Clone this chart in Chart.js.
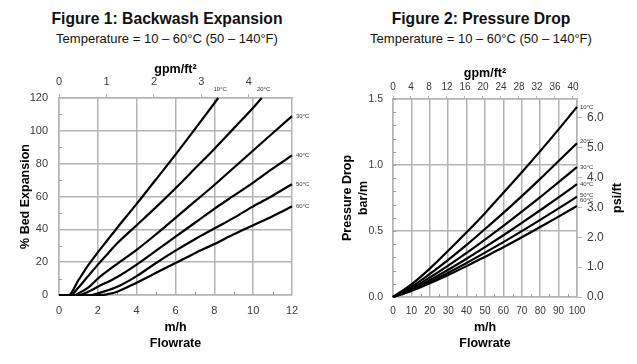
<!DOCTYPE html>
<html><head><meta charset="utf-8">
<script src="https://cdn.jsdelivr.net/npm/chart.js@4.4.0/dist/chart.umd.min.js"></script>
<style>
body{margin:0;background:#fff;width:637px;height:364px;position:relative;overflow:hidden;font-family:'Liberation Sans',Arial,sans-serif}
.h{position:absolute;text-align:center;color:#111;white-space:nowrap}
.t1{font-weight:bold;font-size:15.7px;line-height:15.7px;top:10.7px}
.t2{font-size:13px;line-height:13px;top:31.7px}
canvas{position:absolute;top:0}
</style></head><body>
<div class="h t1" style="left:0;width:334px">Figure 1: Backwash Expansion</div>
<div class="h t2" style="left:0;width:334px">Temperature = 10 – 60°C (50 – 140°F)</div>
<div class="h t1" style="left:318px;width:326px">Figure 2: Pressure Drop</div>
<div class="h t2" style="left:318px;width:326px">Temperature = 10 – 60°C (50 – 140°F)</div>
<canvas id="c1" width="318" height="364" style="left:0"></canvas>
<canvas id="c2" width="319" height="364" style="left:318px"></canvas>
<script>
// ---- unit conversions ----
const GPM = 2.4448;   // m/h per gpm/ft²
const PSI = 4.4207;   // psi/ft per bar/m
const tempLabels = ['10°C','20°C','30°C','40°C','50°C','60°C'];

// ---- Figure 1: Backwash expansion (flowrate m/h -> % bed expansion) ----
const bwFlow10 = [0,0.5,1,1.5,2,2.5,3,4,5,6,7,8,8.2];
const bwExp10  = [0,0,9,18,26,33.5,41,55.5,70.5,85.5,101,116.8,120];
const bwFlow20 = [0,0.6,1,1.5,2,2.5,3,4,5,6,7,8,9,10,10.44];
const bwExp20  = [0,0,4.5,11.5,18.5,25,31.5,42.5,53.5,65,77,89,101.5,114,120];
const bwFlow30 = [0,0.8,1,1.5,2,3,4,5,6,7,8,9,10,11,12];
const bwExp30  = [0,0,1,4.5,10,19,27.5,37,47,57,67,77.5,88,98.5,109];
const bwFlow40 = [0,1,1.5,2,3,4,5,6,7,8,9,10,11,12];
const bwExp40  = [0,0,2,5,11,18.5,27,35.5,44,52.5,60.5,68.5,77,85];
const bwFlow50 = [0,1.6,2,3,4,5,6,7,8,9,10,11,12];
const bwExp50  = [0,0,1,5,11.5,19.5,27,34,40.5,47,54,60.5,67.5];
const bwFlow60 = [0,2.2,2.5,3,4,5,6,7,8,9,10,11,12];
const bwExp60  = [0,0,0.5,2,7.5,13.5,19.5,25.5,31,37,42.5,48,54];

// ---- Figure 2: Pressure drop (flowrate m/h -> bar/m) ----
const pdFlow = [0,10,20,30,40,50,60,70,80,90,100];
const pd10 = [0,0.095,0.215,0.35,0.49,0.635,0.79,0.945,1.105,1.27,1.44];
const pd20 = [0,0.077,0.175,0.282,0.395,0.515,0.637,0.764,0.895,1.03,1.165];
const pd30 = [0,0.065,0.148,0.238,0.334,0.435,0.539,0.646,0.756,0.87,0.985];
const pd40 = [0,0.056,0.128,0.207,0.29,0.378,0.468,0.561,0.657,0.755,0.855];
const pd50 = [0,0.05,0.114,0.184,0.258,0.336,0.416,0.499,0.584,0.671,0.76];
const pd60 = [0,0.046,0.104,0.167,0.234,0.305,0.377,0.453,0.53,0.609,0.69];

const FONT = "'Liberation Sans', Arial, sans-serif";
Chart.defaults.font.family = FONT;
Chart.defaults.animation = false;
const gridC = '#b3b3b3', tickC = '#3a3a3a';

function pts(xs, ys){ return xs.map((x,i)=>({x:x, y:ys[i]})); }
function series(label, xs, ys){
  return {label, data: pts(xs, ys), borderColor:'#000', borderWidth:2.2, pointRadius:0,
          fill:false, cubicInterpolationMode:'monotone', clip:false};
}

const minorTicks = {
  id:'minorTicks',
  beforeDatasetsDraw(chart, args, opts){
    const ctx = chart.ctx, a = chart.chartArea;
    ctx.save(); ctx.strokeStyle = opts.color || '#999'; ctx.lineWidth = 1;
    (opts.items || []).forEach(it => {
      const s = chart.scales[it.scale];
      for (let k = 0; ; k++){
        const v = it.start + k*it.step;
        if (v > s.max + 1e-9) break;
        const p = Math.round(s.getPixelForValue(v)) + 0.5;
        ctx.beginPath();
        if (s.isHorizontal()){ ctx.moveTo(p, a.bottom); ctx.lineTo(p, a.bottom - it.len); }
        else { ctx.moveTo(a.left, p); ctx.lineTo(a.left + it.len, p); }
        ctx.stroke();
      }
    });
    ctx.restore();
  }
};
const endLabels = {
  id:'endLabels',
  afterDatasetsDraw(chart, args, opts){
    const ctx = chart.ctx, a = chart.chartArea;
    ctx.save(); ctx.font = opts.font; ctx.fillStyle = opts.color; ctx.textBaseline = 'middle';
    chart.data.datasets.forEach((ds, i) => {
      const d = chart.getDatasetMeta(i).data; const e = d[d.length-1];
      if (e.y <= a.top + 1){ ctx.textAlign = 'center'; ctx.fillText(ds.label, e.x + opts.topDx, a.top + opts.topDy); }
      else { ctx.textAlign = 'left'; ctx.fillText(ds.label, a.right + opts.sideDx, e.y + (opts.dy ? opts.dy[i] : 0)); }
    });
    ctx.restore();
  }
};
const sideTitle = {
  id:'sideTitle',
  afterDraw(chart, args, opts){
    if (!opts.text) return;
    const ctx = chart.ctx, a = chart.chartArea;
    ctx.save(); ctx.translate(a.right + opts.dx, (a.top + a.bottom)/2); ctx.rotate(-Math.PI/2);
    ctx.font = opts.font; ctx.fillStyle = '#000'; ctx.textAlign = 'center'; ctx.textBaseline = 'middle';
    ctx.fillText(opts.text, 0, 0); ctx.restore();
  }
};

const tickFont = {size:11, family:FONT};
const tickFontS = {size:10, family:FONT};
const titleFont = {size:12.5, weight:'bold', family:FONT, lineHeight:1.28};
const noRot = {maxRotation:0, minRotation:0, autoSkip:false};

// ---------- Chart 1 ----------
new Chart(document.getElementById('c1'), {
  type:'line',
  data:{ datasets:[
    series(tempLabels[0], bwFlow10, bwExp10),
    series(tempLabels[1], bwFlow20, bwExp20),
    series(tempLabels[2], bwFlow30, bwExp30),
    series(tempLabels[3], bwFlow40, bwExp40),
    series(tempLabels[4], bwFlow50, bwExp50),
    series(tempLabels[5], bwFlow60, bwExp60)
  ]},
  plugins:[minorTicks, endLabels],
  options:{
    responsive:false, events:[],
    layout:{padding:{top:55, left:0, right:26, bottom:0}},
    plugins:{ legend:{display:false}, tooltip:{enabled:false},
      minorTicks:{color:'#9a9a9a', items:[{scale:'y', start:10, step:20, len:3},{scale:'x', start:1, step:2, len:3}]},
      endLabels:{font:'6px '+FONT, color:'#333', topDx:2, topDy:-9, sideDx:4}
    },
    scales:{
      x:{type:'linear', position:'bottom', min:0, max:12,
         ticks:Object.assign({stepSize:2, padding:9.5, font:tickFont, color:tickC}, noRot),
         grid:{color:gridC, lineWidth:1.5, drawTicks:false}, border:{color:gridC, width:1.5},
         title:{display:true, text:['m/h','Flowrate'], font:titleFont, color:'#000', padding:{top:0,bottom:12}},
         afterFit(s){ s.height = 69; }},
      x2:{type:'linear', position:'top', min:0, max:12/GPM,
         ticks:Object.assign({stepSize:1, includeBounds:false, padding:5, font:tickFont, color:tickC}, noRot),
         grid:{drawOnChartArea:false, drawTicks:true, tickLength:4, color:gridC}, border:{color:gridC, width:1.5},
         title:{display:true, text:'gpm/ft²', font:titleFont, color:'#000', padding:{top:7,bottom:0}},
         afterFit(s){ s.height = 43; }},
      y:{type:'linear', position:'left', min:0, max:120,
         ticks:{stepSize:20, padding:11, font:tickFont, color:tickC},
         grid:{color:gridC, lineWidth:1.5, drawTicks:false}, border:{color:gridC, width:1.5},
         title:{display:true, text:'% Bed Expansion', font:titleFont, color:'#000', padding:{top:18,bottom:0}},
         afterFit(s){ s.width = 59; }}
    }
  }
});

// ---------- Chart 2 ----------
new Chart(document.getElementById('c2'), {
  type:'line',
  data:{ datasets:[
    series(tempLabels[0], pdFlow, pd10),
    series(tempLabels[1], pdFlow, pd20),
    series(tempLabels[2], pdFlow, pd30),
    series(tempLabels[3], pdFlow, pd40),
    series(tempLabels[4], pdFlow, pd50),
    series(tempLabels[5], pdFlow, pd60)
  ]},
  plugins:[minorTicks, endLabels, sideTitle],
  options:{
    responsive:false, events:[],
    layout:{padding:{top:55, left:0, right:0, bottom:0}},
    plugins:{ legend:{display:false}, tooltip:{enabled:false},
      minorTicks:{color:'#9a9a9a', items:[{scale:'y', start:0.1, step:0.1, len:3},{scale:'x', start:5, step:10, len:3}]},
      endLabels:{font:'6px '+FONT, color:'#333', topDx:2, topDy:-9, sideDx:3, dy:[0,-2,0,0,-1,-6]},
      sideTitle:{text:'psi/ft', dx:40.5, font:'bold 12.5px '+FONT}
    },
    scales:{
      x:{type:'linear', position:'bottom', min:0, max:100,
         ticks:Object.assign({stepSize:10, padding:8, font:tickFontS, color:tickC}, noRot),
         grid:{color:gridC, lineWidth:1.5, drawTicks:false}, border:{color:gridC, width:1.5},
         title:{display:true, text:['m/h','Flowrate'], font:titleFont, color:'#000', padding:{top:0,bottom:12.5}},
         afterFit(s){ s.height = 67; }},
      x2:{type:'linear', position:'top', min:0, max:100/GPM,
         ticks:Object.assign({stepSize:4, includeBounds:false, padding:3, font:tickFontS, color:tickC}, noRot),
         grid:{drawOnChartArea:false, drawTicks:true, tickLength:3, color:gridC}, border:{color:gridC, width:1.5},
         title:{display:true, text:'gpm/ft²', font:titleFont, color:'#000', padding:{top:10.5,bottom:0}},
         afterFit(s){ s.height = 44; }},
      y:{type:'linear', position:'left', min:0, max:1.5,
         ticks:{stepSize:0.5, padding:10, font:{size:10.5, family:FONT}, color:tickC, callback:v=>Number(v).toFixed(1)},
         grid:{color:gridC, lineWidth:1.5, drawTicks:false}, border:{color:gridC, width:1.5},
         title:{display:true, text:['Pressure Drop','bar/m'], font:titleFont, color:'#000', padding:{top:22,bottom:0}},
         afterFit(s){ s.width = 75; }},
      y2:{type:'linear', position:'right', min:0, max:1.5*PSI,
         ticks:{stepSize:1, includeBounds:false, padding:5, font:{size:12, family:FONT}, color:tickC, callback:v=>Number(v).toFixed(1)},
         grid:{drawOnChartArea:false, drawTicks:true, tickLength:5, color:gridC}, border:{color:gridC, width:1.5},
         afterFit(s){ s.width = 60; }}
    }
  }
});
</script>
</body></html>
